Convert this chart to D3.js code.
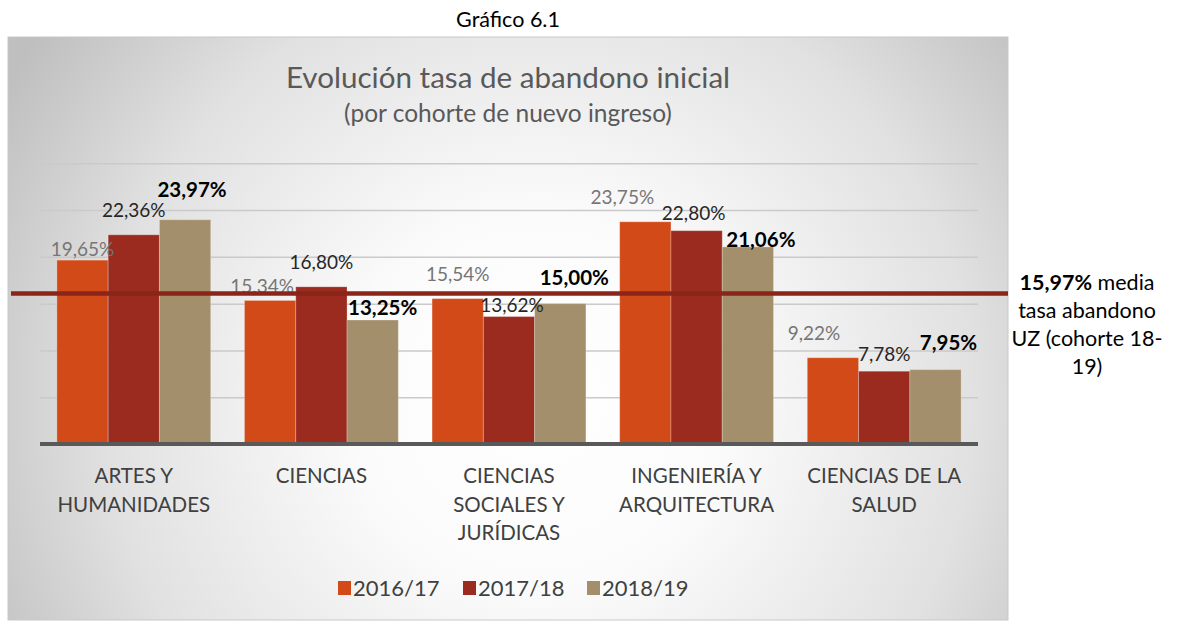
<!DOCTYPE html>
<html>
<head>
<meta charset="utf-8">
<script src="https://cdn.jsdelivr.net/npm/d3@7"></script>
<style>
  body { margin: 0; background: #fff; }
  svg { display: block; font-family: Lato, 'Open Sans', sans-serif; }
</style>
</head>
<body>
<div id="chart"></div>
<script>
// data
const categories = ['ARTES Y HUMANIDADES', 'CIENCIAS', 'CIENCIAS SOCIALES Y JURÍDICAS', 'INGENIERÍA Y ARQUITECTURA', 'CIENCIAS DE LA SALUD'];
const categoryLines = [['ARTES Y', 'HUMANIDADES'], ['CIENCIAS'], ['CIENCIAS', 'SOCIALES Y', 'JURÍDICAS'], ['INGENIERÍA Y', 'ARQUITECTURA'], ['CIENCIAS DE LA', 'SALUD']];
const seriesNames = ['2016/17', '2017/18', '2018/19'];
const v2016 = [19.65, 15.34, 15.54, 23.75, 9.22];
const v2017 = [22.36, 16.80, 13.62, 22.80, 7.78];
const v2018 = [23.97, 13.25, 15.00, 21.06, 7.95];
const meanUZ = 15.97;
const yMax = 30;

// styling / layout
const W = 1178, H = 622;
const colors = ['#d24a18', '#9b2b1f', '#a38f6c'];
const labelFill = ['#767676', '#262626', '#000'];
const labelWeight = ['normal', 'normal', 'bold'];
const labelSize = [19, 19, 20.5];
// manual label nudges from the original ([dx from bar centre, gap above bar top])
const labelNudge = [
  [[0, 4], [-8, 7], [0, 18], [-23, 18], [-19, 18]],
  [[0, 18], [0, 18], [3, 5], [-3, 11], [0, 10]],
  [[7, 23], [10, 5], [14, 19], [13, 0], [13, 20]]
];

const series = [v2016, v2017, v2018];
const fmt = v => d3.format('.2f')(v).replace('.', ',') + '%';

const svg = d3.select('#chart').append('svg')
  .attr('width', W)
  .attr('height', H);

const defs = svg.append('defs');
const grad = defs.append('radialGradient')
  .attr('id', 'bg')
  .attr('gradientUnits', 'userSpaceOnUse')
  .attr('cx', 540).attr('cy', 400).attr('r', 620);
grad.append('stop').attr('offset', '0%').attr('stop-color', '#ffffff');
grad.append('stop').attr('offset', '30%').attr('stop-color', '#fbfbfb');
grad.append('stop').attr('offset', '70%').attr('stop-color', '#e1e1e1');
grad.append('stop').attr('offset', '100%').attr('stop-color', '#bfbfbf');

svg.append('text')
  .attr('x', 508).attr('y', 27)
  .attr('text-anchor', 'middle')
  .attr('font-size', 21.5)
  .attr('fill', '#000')
  .text('Gráfico 6.1');

svg.append('rect')
  .attr('x', 8).attr('y', 37)
  .attr('width', 1000).attr('height', 583)
  .attr('fill', 'url(#bg)')
  .attr('stroke', '#c8c8c8')
  .attr('stroke-width', 1);

svg.append('text')
  .attr('x', 508).attr('y', 88)
  .attr('text-anchor', 'middle')
  .attr('font-size', 29.6)
  .attr('fill', '#595959')
  .text('Evolución tasa de abandono inicial');
svg.append('text')
  .attr('x', 508).attr('y', 122)
  .attr('text-anchor', 'middle')
  .attr('font-size', 24.5)
  .attr('fill', '#595959')
  .text('(por cohorte de nuevo ingreso)');

const x0 = d3.scaleBand(categories, [40, 978])
  .paddingInner(0.18)
  .paddingOuter(0.09);
const x1 = d3.scaleBand(d3.range(seriesNames.length), [0, x0.bandwidth()]);
const y = d3.scaleLinear([0, yMax], [444, 163.3]);

// gridlines
svg.append('g')
  .attr('transform', 'translate(40,0)')
  .call(d3.axisLeft(y).ticks(6).tickSize(-938).tickFormat(''))
  .call(g => g.select('.domain').remove())
  .call(g => g.selectAll('.tick line')
    .attr('stroke', '#cacaca')
    .attr('stroke-width', 1.5))
  .call(g => g.selectAll('.tick').filter(d => d === 0).remove());

// bars
const groups = svg.append('g')
  .selectAll('g')
  .data(categories)
  .join('g')
  .attr('transform', d => `translate(${x0(d)},0)`);

groups.selectAll('rect')
  .data((c, i) => series.map((s, k) => ({ k, i, v: s[i] })))
  .join('rect')
  .attr('x', d => x1(d.k))
  .attr('y', d => y(d.v))
  .attr('width', x1.bandwidth())
  .attr('height', d => y(0) - y(d.v))
  .attr('fill', d => colors[d.k])
  .attr('stroke', 'rgba(255,255,255,0.25)')
  .attr('stroke-width', 1);

// baseline
svg.append('line')
  .attr('x1', 40).attr('x2', 978)
  .attr('y1', y(0)).attr('y2', y(0))
  .attr('stroke', '#595959')
  .attr('stroke-width', 4);

// value labels
groups.selectAll('text.val')
  .data((c, i) => series.map((s, k) => ({ k, i, v: s[i] })))
  .join('text')
  .attr('class', 'val')
  .attr('x', d => x1(d.k) + x1.bandwidth() / 2 + labelNudge[d.k][d.i][0])
  .attr('y', d => y(d.v) - labelNudge[d.k][d.i][1])
  .attr('text-anchor', 'middle')
  .attr('font-size', d => labelSize[d.k])
  .attr('font-weight', d => labelWeight[d.k])
  .attr('fill', d => labelFill[d.k])
  .text(d => fmt(d.v));

// mean line
svg.append('line')
  .attr('x1', 11).attr('x2', 1008)
  .attr('y1', y(meanUZ) - 1).attr('y2', y(meanUZ) - 1)
  .attr('stroke', '#8b2519')
  .attr('stroke-width', 4.5);

// category labels
svg.append('g')
  .selectAll('text')
  .data(categories)
  .join('text')
  .attr('x', d => x0(d) + x0.bandwidth() / 2)
  .attr('y', 483)
  .attr('text-anchor', 'middle')
  .attr('font-size', 20.5)
  .attr('fill', '#404040')
  .each(function (d, i) {
    d3.select(this).selectAll('tspan')
      .data(categoryLines[i])
      .join('tspan')
      .attr('x', x0(d) + x0.bandwidth() / 2)
      .attr('dy', (l, j) => j === 0 ? 0 : 28.6)
      .text(l => l);
  });

// legend
const legendX = [338, 463, 587];
const legend = svg.append('g')
  .selectAll('g')
  .data(seriesNames)
  .join('g')
  .attr('transform', (d, i) => `translate(${legendX[i]},581)`);
legend.append('rect')
  .attr('width', 13).attr('height', 14)
  .attr('fill', (d, i) => colors[i]);
legend.append('text')
  .attr('x', 15).attr('y', 14.5)
  .attr('font-size', 22)
  .attr('fill', '#404040')
  .text(d => d);

// annotation on the right
const note = svg.append('text')
  .attr('text-anchor', 'middle')
  .attr('font-size', 21.5)
  .attr('fill', '#000');
const noteLines = [null, 'tasa abandono', 'UZ (cohorte 18-', '19)'];
noteLines.forEach((l, j) => {
  const t = note.append('tspan').attr('x', 1087).attr('y', 290 + j * 28);
  if (j === 0) {
    t.append('tspan').attr('font-weight', 'bold').text(fmt(meanUZ));
    t.append('tspan').text(' media');
  } else {
    t.text(l);
  }
});
</script>
</body>
</html>
